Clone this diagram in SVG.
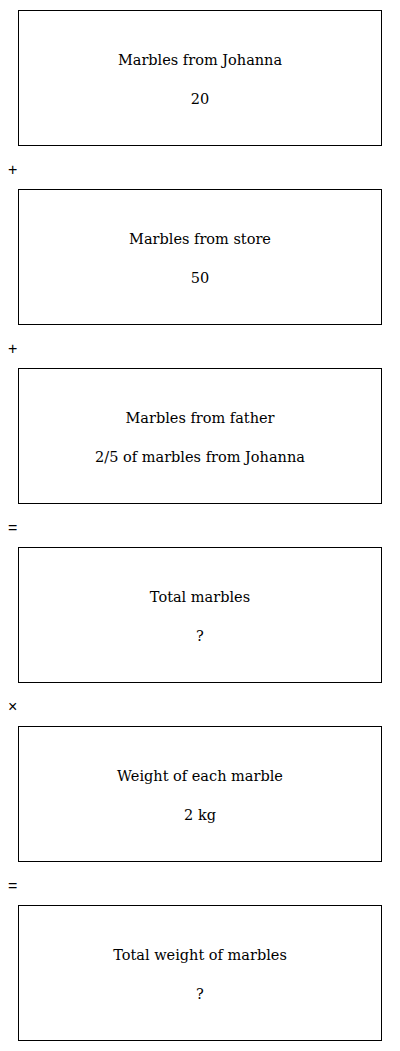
<svg xmlns="http://www.w3.org/2000/svg" width="400" height="1051" viewBox="0 0 400 1051">
<style>
.box{fill:#fff;stroke:#000;stroke-width:1}
.t{font-family:"DejaVu Serif",serif;font-size:14.5px;fill:#000;text-anchor:middle}
.op{font-family:"Liberation Sans",Arial,sans-serif;font-size:16px;fill:#000}
</style>
<rect width="400" height="1051" fill="#fff"/>
<g id="node1"><rect class="box" x="18.5" y="10.5" width="363" height="135"/><text class="t" x="200" y="65">Marbles from Johanna</text><text class="t" x="200" y="104">20</text></g>
<g id="node2"><rect class="box" x="18.5" y="189.5" width="363" height="135"/><text class="t" x="200" y="244">Marbles from store</text><text class="t" x="200" y="283">50</text></g>
<g id="node3"><rect class="box" x="18.5" y="368.5" width="363" height="135"/><text class="t" x="200" y="423">Marbles from father</text><text class="t" x="200" y="462">2/5 of marbles from Johanna</text></g>
<g id="node4"><rect class="box" x="18.5" y="547.5" width="363" height="135"/><text class="t" x="200" y="602">Total marbles</text><text class="t" x="200" y="641">?</text></g>
<g id="node5"><rect class="box" x="18.5" y="726.5" width="363" height="135"/><text class="t" x="200" y="781">Weight of each marble</text><text class="t" x="200" y="820">2 kg</text></g>
<g id="node6"><rect class="box" x="18.5" y="905.5" width="363" height="135"/><text class="t" x="200" y="960">Total weight of marbles</text><text class="t" x="200" y="999">?</text></g>
<g id="connectors">
<text class="op" x="8" y="175">+</text>
<text class="op" x="8" y="354">+</text>
<text class="op" x="8" y="533">=</text>
<text class="op" x="8" y="712">×</text>
<text class="op" x="8" y="891">=</text>
</g>
</svg>
